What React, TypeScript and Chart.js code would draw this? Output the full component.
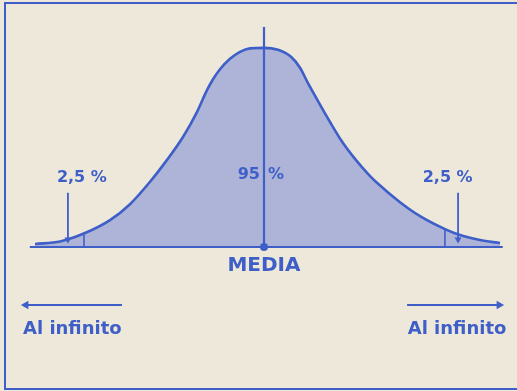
import React, { useEffect, useRef } from "react";
import { Chart, registerables } from "chart.js";

Chart.register(...registerables);

// Bell curve (x in standard deviations, y = density)
const curveZ = [-2.493, -2.221, -1.949, -1.677, -1.459, -1.241, -1.056, -0.882, -0.73, -0.621, -0.555, -0.479, -0.37, -0.261, -0.152, 0, 0.152, 0.294, 0.392, 0.479, 0.588, 0.719, 0.838, 0.991, 1.132, 1.23, 1.481, 1.699, 1.971, 2.134, 2.352, 2.57];
const curveDensity = [0.006, 0.011, 0.028, 0.054, 0.086, 0.131, 0.175, 0.221, 0.271, 0.315, 0.337, 0.357, 0.378, 0.392, 0.399, 0.4, 0.396, 0.382, 0.36, 0.329, 0.293, 0.251, 0.215, 0.177, 0.147, 0.129, 0.09, 0.062, 0.036, 0.024, 0.014, 0.008];

const baselineZ = [-2.55, 2.6];
const meanZ = 0;
const meanTop = 0.442;
const cutZ = [-1.96, 1.97];
const cutHeights = [0.028, 0.034];
const tailArrowZ = [-2.135, 2.113];
const tailArrowTop = 0.109;
const tailArrowTip = 0.015;
const infArrowLeft = [-2.593, -1.547];
const infArrowRight = [1.558, 2.56];
const infArrowY = -0.1165;

const labelTexts = ["2,5 %", "2,5 %", "95", "%", "MEDIA", "Al infinito", "Al infinito"];
const labelZ = [-1.983, 2.0, -0.044, 0.044, 0, -2.087, 2.102];
const labelY = [0.1386, 0.1386, 0.1446, 0.1446, -0.038, -0.165, -0.165];
const labelAlign = ["center", "center", "right", "left", "center", "center", "center"];
const labelSize = [16, 16, 16, 16, 20, 18, 18];

const BLUE = "#3f5fc8";
const PAPER = "#eee8da";

export default function App() {
  const ref = useRef<HTMLCanvasElement | null>(null);

  useEffect(() => {
    if (!ref.current) return;
    const seg = (xs: number[], ys: number[]) => xs.map((x, i) => ({ x, y: ys[i] }));
    const lineDs = (data: any[], width: number, extra: any = {}) => ({
      data,
      borderColor: BLUE,
      backgroundColor: BLUE,
      borderWidth: width,
      pointRadius: 0,
      pointBorderWidth: 0,
      fill: false,
      clip: false,
      ...extra,
    });

    const textPlugin = {
      id: "labels",
      beforeDraw(chart: any) {
        const { ctx, width, height } = chart;
        ctx.save();
        ctx.fillStyle = PAPER;
        ctx.fillRect(0, 0, width, height);
        ctx.restore();
      },
      afterDatasetsDraw(chart: any) {
        const { ctx, scales } = chart;
        ctx.save();
        ctx.fillStyle = BLUE;
        ctx.textBaseline = "middle";
        labelTexts.forEach((t, i) => {
          ctx.font = `bold ${labelSize[i]}px "DejaVu Sans"`;
          ctx.textAlign = labelAlign[i];
          ctx.fillText(t, scales.x.getPixelForValue(labelZ[i]), scales.y.getPixelForValue(labelY[i]));
        });
        ctx.restore();
      },
    };

    const datasets: any[] = [
      lineDs(seg(curveZ, curveDensity), 2.6, {
        fill: "origin",
        backgroundColor: "rgba(60,90,210,0.36)",
        cubicInterpolationMode: "monotone",
        order: 5,
      }),
      lineDs(seg(baselineZ, [0, 0]), 2.2),
      lineDs(seg([meanZ, meanZ], [0, meanTop]), 2.2),
      lineDs([{ x: meanZ, y: 0 }], 0, { pointRadius: 4, showLine: false }),
      ...cutZ.map((z, i) => lineDs(seg([z, z], [0, cutHeights[i]]), 1.6)),
      ...tailArrowZ.map((z) =>
        lineDs(seg([z, z], [tailArrowTop, tailArrowTip]), 1.8, {
          pointRadius: [0, 4],
          pointStyle: "triangle",
          pointRotation: 180,
        })
      ),
      lineDs(seg(infArrowLeft, [infArrowY, infArrowY]), 2, {
        pointRadius: [5, 0],
        pointStyle: "triangle",
        pointRotation: 270,
      }),
      lineDs(seg(infArrowRight, [infArrowY, infArrowY]), 2, {
        pointRadius: [0, 5],
        pointStyle: "triangle",
        pointRotation: 90,
      }),
    ];

    const chart = new Chart(ref.current, {
      type: "line",
      data: { datasets },
      options: {
        animation: false,
        responsive: false,
        events: [],
        layout: { padding: 0, autoPadding: false },
        scales: {
          x: { type: "linear", min: -2.8746, max: 2.7548, display: false },
          y: { type: "linear", min: -0.2892, max: 0.4961, display: false },
        },
        plugins: { legend: { display: false }, tooltip: { enabled: false } },
      },
      plugins: [textPlugin],
    });
    return () => chart.destroy();
  }, []);

  return (
    <div style={{ position: "absolute", left: 0, top: 0, width: 517, height: 391, background: PAPER }}>
      <canvas ref={ref} width={517} height={391} style={{ display: "block" }} />
      <div
        style={{
          position: "absolute",
          left: 4,
          top: 2,
          width: 520,
          height: 384,
          borderLeft: `2px solid ${BLUE}`,
          borderTop: `2px solid ${BLUE}`,
          borderBottom: `2px solid ${BLUE}`,
          pointerEvents: "none",
        }}
      />
    </div>
  );
}
